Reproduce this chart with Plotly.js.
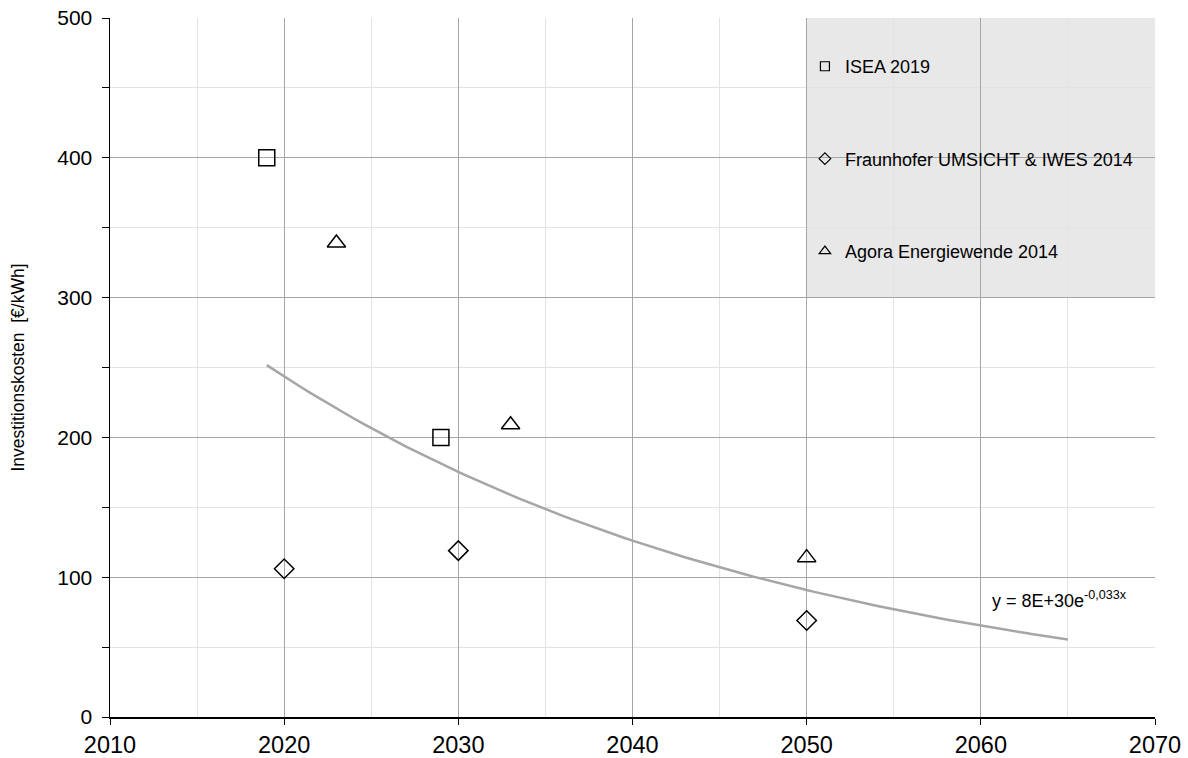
<!DOCTYPE html>
<html>
<head>
<meta charset="utf-8">
<script src="https://cdn.plot.ly/plotly-3.0.1.min.js"></script>
<style>html,body{margin:0;padding:0;background:#fff;}#chart{width:1188px;height:758px;}</style>
</head>
<body>
<div id="chart"></div>
<script>
// Series data (year, €/kWh)
const iseaYears = [2019, 2029];
const iseaValues = [400, 200];
const fraunhoferYears = [2020, 2030, 2050];
const fraunhoferValues = [106, 119, 69];
const agoraYears = [2023, 2033, 2050];
const agoraValues = [339, 209, 114];
const seriesNames = ["ISEA 2019", "Fraunhofer UMSICHT & IWES 2014", "Agora Energiewende 2014"];
const trendRange = [2019, 2065];
const equationText = "y = 8E+30e<sup>-0,033x</sup>";
const yTitle = "Investitionskosten  [€/kWh]";

// Exponential least-squares trendline over all points (as in the original)
const allX = iseaYears.concat(fraunhoferYears, agoraYears);
const allY = iseaValues.concat(fraunhoferValues, agoraValues);
const n = allX.length;
const mx = allX.reduce((a,b)=>a+b,0)/n;
const ly = allY.map(v=>Math.log(v));
const my = ly.reduce((a,b)=>a+b,0)/n;
let sxy=0, sxx=0;
for (let i=0;i<n;i++){ sxy+=(allX[i]-mx)*(ly[i]-my); sxx+=(allX[i]-mx)*(allX[i]-mx); }
const b = sxy/sxx;
const trendX = [], trendY = [];
for (let x=trendRange[0]; x<=trendRange[1]; x+=0.5){ trendX.push(x); trendY.push(Math.exp(my + b*(x-mx))); }

const mk = (sym, size, w) => ({symbol: sym, size: size, color: '#000', line: {color: '#000', width: w}});

const traces = [
  {x: trendX, y: trendY, mode: 'lines', line: {color: '#a6a6a6', width: 2.5}, showlegend: false, hoverinfo: 'skip'},
  {x: iseaYears, y: iseaValues, mode: 'markers', name: seriesNames[0], legendgroup: 'a', showlegend: false, marker: mk('square-open', 16, 1.5)},
  {x: fraunhoferYears, y: fraunhoferValues, mode: 'markers', name: seriesNames[1], legendgroup: 'b', showlegend: false, marker: mk('diamond-open', 15, 1.5)},
  {x: agoraYears, y: agoraValues, mode: 'markers', name: seriesNames[2], legendgroup: 'c', showlegend: false, marker: mk('triangle-up-open', 16, 1.5)},
  // legend entries (small symbols, as in the original legend)
  {x: [null], y: [null], mode: 'markers', name: seriesNames[0], legendgroup: 'a', marker: mk('square-open', 9, 1.2)},
  {x: [null], y: [null], mode: 'markers', name: seriesNames[1], legendgroup: 'b', marker: mk('diamond-open', 9, 1.2)},
  {x: [null], y: [null], mode: 'markers', name: seriesNames[2], legendgroup: 'c', marker: mk('triangle-up-open', 10, 1.2)}
];

const layout = {
  width: 1188, height: 758,
  margin: {l: 110, r: 33, t: 18, b: 41},
  paper_bgcolor: '#fff', plot_bgcolor: '#fff',
  font: {family: 'Arial, Liberation Sans, sans-serif', size: 18, color: '#000'},
  showlegend: true,
  legend: {x: 0.665, y: 0.957, xanchor: 'left', yanchor: 'top', bgcolor: 'rgba(0,0,0,0)',
           font: {size: 18, color: '#000'}, tracegroupgap: 66, itemsizing: 'trace', itemwidth: 30},
  xaxis: {range: [2010, 2070], dtick: 10, tick0: 2010, showgrid: true, gridcolor: '#a6a6a6', gridwidth: 1,
          zeroline: false, showline: true, linecolor: '#000', linewidth: 1.5, ticks: 'outside', ticklen: 6, tickcolor: '#000',
          minor: {dtick: 5, showgrid: true, gridcolor: '#e3e3e3', gridwidth: 1, ticks: ''},
          tickfont: {size: 23.5}},
  yaxis: {range: [0, 500], dtick: 100, showgrid: true, gridcolor: '#a6a6a6', gridwidth: 1,
          zeroline: false, showline: true, linecolor: '#000', linewidth: 1.5, ticks: 'outside', ticklen: 7, tickcolor: '#000',
          minor: {dtick: 50, showgrid: true, gridcolor: '#e3e3e3', gridwidth: 1, ticks: 'outside', ticklen: 7, tickcolor: '#000'},
          tickfont: {size: 21}, ticklabelstandoff: 5,
          title: {text: yTitle, font: {size: 17.5}, standoff: 28}},
  shapes: [{type: 'rect', xref: 'x', yref: 'y', x0: 2050, x1: 2070, y0: 300, y1: 500,
            fillcolor: '#e8e8e8', line: {width: 0}, layer: 'below'}],
  annotations: [{x: 2060.5, y: 84, xref: 'x', yref: 'y', text: equationText, showarrow: false,
                 xanchor: 'left', font: {size: 18, color: '#000'}}]
};

Plotly.newPlot('chart', traces, layout, {displayModeBar: false, staticPlot: true});
</script>
</body>
</html>
